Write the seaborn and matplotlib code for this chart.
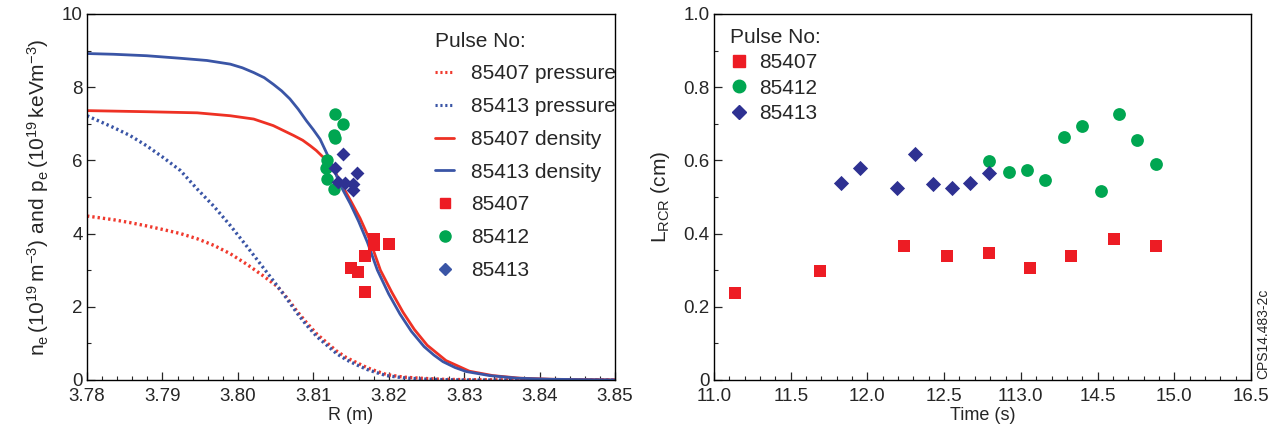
import matplotlib
matplotlib.use("Agg")
import pandas as pd
import matplotlib.pyplot as plt
import seaborn as sns
from matplotlib.ticker import MultipleLocator, FixedLocator, FixedFormatter
from matplotlib.lines import Line2D

# couleurs
RED = "#ed1c24"
GREEN = "#00a651"
NAVY = "#2e3192"
LBLUE = "#3a55a6"

# --- panneau gauche : profils ---
r_p407 = [3.7800, 3.7835, 3.7857, 3.7879, 3.7901, 3.7924, 3.7946, 3.7968, 3.7990, 3.8012,
          3.8034, 3.8052, 3.8065, 3.8078, 3.8091, 3.8105, 3.8118, 3.8131, 3.8144, 3.8158,
          3.8171, 3.8184, 3.8197, 3.8219, 3.8241, 3.8270, 3.8300, 3.8400, 3.8500]
p_p407 = [4.48, 4.38, 4.30, 4.21, 4.11, 4.00, 3.86, 3.68, 3.45, 3.16,
          2.84, 2.56, 2.25, 1.89, 1.57, 1.25, 1.02, 0.79, 0.61, 0.47,
          0.34, 0.24, 0.15, 0.08, 0.05, 0.02, 0.01, 0.00, 0.00]

r_p413 = [3.7800, 3.7835, 3.7857, 3.7879, 3.7901, 3.7924, 3.7946, 3.7968, 3.7990, 3.8012,
          3.8034, 3.8052, 3.8065, 3.8078, 3.8091, 3.8105, 3.8118, 3.8131, 3.8144, 3.8158,
          3.8171, 3.8184, 3.8197, 3.8219, 3.8241, 3.8270, 3.8300, 3.8400, 3.8500]
p_p413 = [7.22, 6.90, 6.68, 6.40, 6.08, 5.72, 5.22, 4.75, 4.22, 3.65,
          3.06, 2.58, 2.22, 1.84, 1.50, 1.18, 0.95, 0.72, 0.55, 0.41,
          0.29, 0.20, 0.12, 0.06, 0.03, 0.01, 0.00, 0.00, 0.00]

r_n407 = [3.7800, 3.7879, 3.7946, 3.7990, 3.8021, 3.8047, 3.8074, 3.8086, 3.8096, 3.8104,
          3.8111, 3.8117, 3.8122, 3.8129, 3.8136, 3.8150, 3.8162, 3.8175, 3.8189, 3.8204,
          3.8219, 3.8234, 3.8251, 3.8276, 3.8307, 3.8338, 3.8374, 3.8418, 3.8500]
n_n407 = [7.36, 7.33, 7.30, 7.22, 7.13, 6.95, 6.68, 6.55, 6.40, 6.27,
          6.13, 6.02, 5.90, 5.68, 5.40, 4.88, 4.42, 3.82, 3.00, 2.40,
          1.85, 1.38, 0.95, 0.53, 0.24, 0.12, 0.05, 0.02, 0.00]

r_n413 = [3.7800, 3.7835, 3.7879, 3.7924, 3.7959, 3.7990, 3.8006, 3.8021, 3.8035, 3.8047,
          3.8058, 3.8069, 3.8080, 3.8091, 3.8100, 3.8109, 3.8120, 3.8128, 3.8136, 3.8149,
          3.8160, 3.8172, 3.8185, 3.8200, 3.8215, 3.8230, 3.8247, 3.8260, 3.8272, 3.8288,
          3.8303, 3.8334, 3.8370, 3.8414, 3.8500]
n_n413 = [8.92, 8.90, 8.86, 8.79, 8.73, 8.63, 8.53, 8.40, 8.26, 8.08,
          7.90, 7.68, 7.40, 7.08, 6.84, 6.58, 6.10, 5.72, 5.32, 4.82,
          4.34, 3.75, 3.00, 2.35, 1.80, 1.33, 0.91, 0.68, 0.50, 0.34,
          0.23, 0.12, 0.05, 0.02, 0.00]

r_pts407 = [3.8180, 3.8180, 3.8200, 3.8169, 3.8150, 3.8159, 3.8169]
v_pts407 = [3.85, 3.69, 3.71, 3.39, 3.05, 2.96, 2.40]
r_pts412 = [3.8129, 3.8140, 3.8128, 3.8129, 3.8118, 3.8117, 3.8118, 3.8128]
v_pts412 = [7.27, 6.99, 6.70, 6.61, 6.02, 5.79, 5.49, 5.21]
r_pts413 = [3.8140, 3.8129, 3.8158, 3.8133, 3.8142, 3.8152, 3.8152]
v_pts413 = [6.17, 5.79, 5.65, 5.42, 5.38, 5.35, 5.20]

r_ticks = [3.78, 3.79, 3.80, 3.81, 3.82, 3.83, 3.84, 3.85]
r_labels = ["3.78", "3.79", "3.80", "3.81", "3.82", "3.83", "3.84", "3.85"]
n_ticks = [0, 2, 4, 6, 8, 10]
n_labels = ["0", "2", "4", "6", "8", "10"]

# --- panneau droit : L_RCR en fonction du temps ---
t_407 = [11.14, 11.69, 12.24, 12.52, 12.79, 13.06, 13.33, 13.61, 13.88]
l_407 = [0.238, 0.298, 0.366, 0.339, 0.346, 0.306, 0.339, 0.386, 0.366]
t_412 = [12.79, 12.92, 13.04, 13.16, 13.28, 13.40, 13.52, 13.64, 13.76, 13.88]
l_412 = [0.598, 0.567, 0.575, 0.547, 0.664, 0.694, 0.516, 0.726, 0.657, 0.589]
t_413 = [11.83, 11.95, 12.19, 12.31, 12.43, 12.55, 12.67, 12.79]
l_413 = [0.537, 0.579, 0.525, 0.618, 0.535, 0.525, 0.537, 0.566]

time_ticks = [11.0, 11.5, 12.0, 12.5, 13.0, 13.5, 14.0, 14.5]
time_labels = ["11.0", "11.5", "12.0", "12.5", "113.0", "14.5", "15.0", "16.5"]
l_ticks = [0, 0.2, 0.4, 0.6, 0.8, 1.0]
l_labels = ["0", "0.2", "0.4", "0.6", "0.8", "1.0"]

sns.set_style("ticks")
plt.rcParams['font.family'] = ['Liberation Sans', 'DejaVu Sans']
plt.rcParams['mathtext.fontset'] = 'custom'
plt.rcParams['mathtext.rm'] = 'Liberation Sans'
plt.rcParams['axes.linewidth'] = 1.0
plt.rcParams['axes.edgecolor'] = 'black'

fig = plt.figure(figsize=(12.77, 4.33), dpi=100)
ax1 = fig.add_axes([87 / 1277, 53 / 433, 528 / 1277, 366 / 433])
ax2 = fig.add_axes([714 / 1277, 53 / 433, 537 / 1277, 366 / 433])

dots = (0, (0.7, 0.9))
sns.lineplot(x=r_p407, y=p_p407, ax=ax1, color="#f03a2e", linestyle=dots, lw=2.4, sort=False, estimator=None)
sns.lineplot(x=r_p413, y=p_p413, ax=ax1, color=LBLUE, linestyle=dots, lw=2.4, sort=False, estimator=None)
sns.lineplot(x=r_n407, y=n_n407, ax=ax1, color="#ee3124", lw=2.0, sort=False, estimator=None)
sns.lineplot(x=r_n413, y=n_n413, ax=ax1, color=LBLUE, lw=2.0, sort=False, estimator=None)

sns.scatterplot(x=r_pts412, y=v_pts412, ax=ax1, color=GREEN, marker="o", s=80, linewidth=0, zorder=5)
sns.scatterplot(x=r_pts413, y=v_pts413, ax=ax1, color=NAVY, marker="D", s=50, linewidth=0, zorder=6)
sns.scatterplot(x=r_pts407, y=v_pts407, ax=ax1, color=RED, marker="s", s=64, linewidth=0, zorder=5)

ax1.set_xlim(3.78, 3.85)
ax1.set_ylim(0, 10)
ax1.xaxis.set_major_locator(FixedLocator(r_ticks))
ax1.xaxis.set_major_formatter(FixedFormatter(r_labels))
ax1.xaxis.set_minor_locator(MultipleLocator(0.002))
ax1.yaxis.set_major_locator(FixedLocator(n_ticks))
ax1.yaxis.set_major_formatter(FixedFormatter(n_labels))
ax1.yaxis.set_minor_locator(MultipleLocator(1))
ax1.set_xlabel("R (m)", fontsize=13, labelpad=1)
ax1.set_ylabel(r"$\mathregular{n_e\,(10^{19}\,m^{-3})\ and\ p_e\,(10^{19}\,keVm^{-3})}$",
               fontsize=15, labelpad=8)

h1 = [
    Line2D([], [], color="#f03a2e", linestyle=dots, lw=2.2),
    Line2D([], [], color=LBLUE, linestyle=dots, lw=2.2),
    Line2D([], [], color="#ee3124", lw=2.0),
    Line2D([], [], color=LBLUE, lw=2.0),
    Line2D([], [], color=RED, marker="s", ms=7.5, lw=0),
    Line2D([], [], color=GREEN, marker="o", ms=8, lw=0),
    Line2D([], [], color=LBLUE, marker="D", ms=6.5, lw=0),
]
lab1 = ["85407 pressure", "85413 pressure", "85407 density", "85413 density", "85407", "85412", "85413"]
ax1.legend(h1, lab1, title="Pulse No:", loc="upper left", bbox_to_anchor=(0.64, 0.98),
           frameon=False, fontsize=15, title_fontsize=15, handlelength=0.9,
           handletextpad=0.8, labelspacing=0.66, borderpad=0, alignment="left")

sns.scatterplot(x=t_407, y=l_407, ax=ax2, color=RED, marker="s", s=68, linewidth=0)
sns.scatterplot(x=t_412, y=l_412, ax=ax2, color=GREEN, marker="o", s=85, linewidth=0)
sns.scatterplot(x=t_413, y=l_413, ax=ax2, color=NAVY, marker="D", s=60, linewidth=0)

ax2.set_xlim(11.0, 14.5)
ax2.set_ylim(0, 1.0)
ax2.xaxis.set_major_locator(FixedLocator(time_ticks))
ax2.xaxis.set_major_formatter(FixedFormatter(time_labels))
ax2.xaxis.set_minor_locator(MultipleLocator(0.1))
ax2.yaxis.set_major_locator(FixedLocator(l_ticks))
ax2.yaxis.set_major_formatter(FixedFormatter(l_labels))
ax2.yaxis.set_minor_locator(MultipleLocator(0.1))
ax2.set_xlabel("Time (s)", fontsize=13, labelpad=1)
ax2.set_ylabel(r"$\mathregular{L_{RCR}}$ (cm)", fontsize=15, labelpad=8)

h2 = [
    Line2D([], [], color=RED, marker="s", ms=8, lw=0),
    Line2D([], [], color=GREEN, marker="o", ms=9, lw=0),
    Line2D([], [], color=NAVY, marker="D", ms=7.5, lw=0),
]
ax2.legend(h2, ["85407", "85412", "85413"], title="Pulse No:", loc="upper left",
           bbox_to_anchor=(0.01, 0.99), frameon=False, fontsize=15, title_fontsize=15,
           handlelength=0.9, handletextpad=0.5, labelspacing=0.3, borderpad=0,
           alignment="left")

for ax in (ax1, ax2):
    ax.tick_params(which="major", direction="in", length=6, width=0.9, labelsize=13.5,
                   top=False, right=False)
    ax.tick_params(axis="x", which="major", pad=6)
    ax.tick_params(axis="y", which="major", pad=3)
    ax.tick_params(which="minor", direction="in", length=3, width=0.8, top=False, right=False)
    for sp in ax.spines.values():
        sp.set_visible(True)
        sp.set_color("black")
        sp.set_linewidth(1.0)

fig.text(1263 / 1277, 54 / 433, "CPS14.483-2c", rotation=90, fontsize=10,
         ha="center", va="bottom")

fig.savefig("out.png", dpi=100)
